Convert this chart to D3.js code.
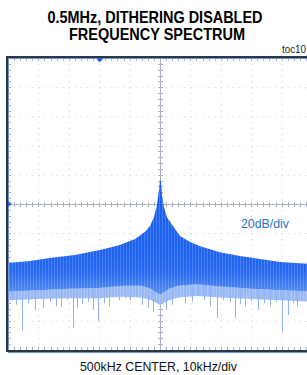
<!DOCTYPE html>
<html>
<head>
<meta charset="utf-8">
<script src="https://cdn.jsdelivr.net/npm/d3@7"></script>
<style>
  body { margin: 0; background: #fff; }
  svg { display: block; font-family: "Liberation Sans", Arial, sans-serif; }
</style>
</head>
<body>
<div id="chart"></div>
<script>
// spectrum: offset from 500kHz (kHz) and level (dB, top of screen = 0)
const envFreq = [-50, -42.8, -36.2, -28, -19.7, -13.2, -8.2, -4.9, -3.3, -2, -1, -0.33, 0, 0.33, 0.66, 1.3, 2.3, 3.9, 6.6, 9.9, 13.2, 19.7, 26.3, 32.9, 39.5, 48.4, 50];
const envDb   = [-140.4, -139, -137, -135, -131.5, -128, -124, -119, -115, -109, -100.7, -90, -83.6, -85, -94, -102, -109, -114, -122, -126, -129, -133, -135.6, -137.7, -139.7, -141, -141];

// lower edge of the dense band and of the lighter fringe below it
const floorFreq = [-50, -40, -30, -20, -12, -6, -3, -1, 0, 1, 3, 6, 12, 20, 30, 40, 50];
const floorDb   = [-160, -159, -158, -157.5, -156, -156, -158, -161, -162, -161, -158, -156, -155, -156.5, -158, -159, -160];
const fringeDb  = [-166, -165, -164.5, -164.5, -163.5, -164, -166, -168, -169, -168, -166, -164, -163, -164, -165, -166, -167];

// deep single spurs that reach below the band
const spurFreq = [-48.7, -47.4, -45.4, -43.4, -41.1, -38.5, -36.2, -34.2, -32.6, -30.6, -28.6, -27.3, -25.7, -23.7, -22, -20.4, -18.4, -16.8, -15.5, -13.5, -11.5, -9.9, -7.9, -5.9, -3.9, -2.3,
                  2, 3.9, 5.9, 8.2, 10.5, 12.5, 14.5, 16.4, 18.8, 20.7, 23, 24.7, 26.3, 28, 29.9, 32.2, 34.2, 36.2, 38.2, 40.1, 42.1, 43.8, 45, 46.7];
const spurDb   = [-165.8, -169, -187, -168, -172.6, -171, -167, -170, -170.5, -165.8, -185, -171, -168.5, -167, -172.6, -180, -168, -170, -160, -165.8, -164.4, -165.8, -163, -169, -171, -174,
                  -172.6, -169, -164.4, -168, -167, -163, -165.8, -170, -178, -165.8, -167, -178, -168.5, -170, -166.4, -172.6, -168, -170, -167, -187.7, -176, -168, -170, -165.8];

const title = ['0.5MHz, DITHERING DISABLED', 'FREQUENCY SPECTRUM'];
const xLabel = '500kHz CENTER, 10kHz/div';
const scaleLabel = '20dB/div';
const tocLabel = 'toc10';

const W = 307, H = 375;
const svg = d3.select('#chart').append('svg').attr('width', W).attr('height', H);

const x = d3.scaleLinear().domain([-50, 50]).range([8, 312]);
const y = d3.scaleLinear().domain([0, -200]).range([58, 350]);

const xMajor = d3.range(-50, 51, 10);
const yMajor = d3.range(0, -201, -20);
const xMinor = d3.range(-50, 50.01, 2);
const yMinor = d3.range(0, -200.01, -4);

const defs = svg.append('defs');
const grad = defs.append('linearGradient').attr('id', 'band').attr('x1', 0).attr('x2', 0).attr('y1', 0).attr('y2', 1)
  .attr('gradientUnits', 'userSpaceOnUse').attr('y1', y(-130)).attr('y2', y(-160));
grad.append('stop').attr('offset', 0).attr('stop-color', '#1c61ee');
grad.append('stop').attr('offset', 0.55).attr('stop-color', '#2668ee');
grad.append('stop').attr('offset', 1).attr('stop-color', '#4f88f0');
const stripes = defs.append('pattern').attr('id', 'stripes').attr('patternUnits', 'userSpaceOnUse')
  .attr('width', 3).attr('height', 8);
stripes.append('rect').attr('x', 0).attr('y', 0).attr('width', 1).attr('height', 8).attr('fill', '#fff').attr('opacity', 0.18);

// header
svg.append('text').attr('x', 155).attr('y', 23).attr('text-anchor', 'middle')
  .attr('font-size', 16.5).attr('font-weight', 'bold')
  .attr('textLength', 215).attr('lengthAdjust', 'spacingAndGlyphs').text(title[0]);
svg.append('text').attr('x', 157).attr('y', 39.5).attr('text-anchor', 'middle')
  .attr('font-size', 16.5).attr('font-weight', 'bold')
  .attr('textLength', 176).attr('lengthAdjust', 'spacingAndGlyphs').text(title[1]);
svg.append('text').attr('x', 282).attr('y', 53).attr('font-size', 10).attr('fill', '#222')
  .attr('textLength', 24).attr('lengthAdjust', 'spacingAndGlyphs').text(tocLabel);

// grid
const grid = svg.append('g').attr('stroke', '#cfcfcf').attr('stroke-width', 1);
grid.selectAll('.gx').data(xMajor.filter(d => d !== 0 && d > -50 && d < 50)).join('line')
  .attr('x1', d => x(d) + 0.5).attr('x2', d => x(d) + 0.5)
  .attr('y1', y(0)).attr('y2', y(-200))
  .attr('stroke-dasharray', '1,4.84');
grid.selectAll('.gy').data(yMajor.filter(d => d !== -100 && d < 0 && d > -200)).join('line')
  .attr('y1', d => y(d) + 0.5).attr('y2', d => y(d) + 0.5)
  .attr('x1', x(-50)).attr('x2', x(50))
  .attr('stroke-dasharray', '1,5.08');

// center crosshair with minor ticks
const cross = svg.append('g').attr('stroke', '#a9b1c2').attr('stroke-width', 1);
cross.append('line').attr('x1', x(-50)).attr('x2', x(50)).attr('y1', y(-100) + 0.5).attr('y2', y(-100) + 0.5);
cross.append('line').attr('y1', y(0)).attr('y2', y(-200)).attr('x1', x(0) + 0.5).attr('x2', x(0) + 0.5);
cross.selectAll('.tx').data(xMinor).join('line')
  .attr('x1', d => Math.round(x(d)) + 0.5).attr('x2', d => Math.round(x(d)) + 0.5)
  .attr('y1', y(-100) - 2).attr('y2', y(-100) + 3);
cross.selectAll('.ty').data(yMinor).join('line')
  .attr('y1', d => Math.round(y(d)) + 0.5).attr('y2', d => Math.round(y(d)) + 0.5)
  .attr('x1', x(0) - 2).attr('x2', x(0) + 3);

// edge ticks
const edge = svg.append('g').attr('stroke', '#a9b4cc').attr('stroke-width', 1);
edge.selectAll('.et').data(xMinor).join('line')
  .attr('x1', d => Math.round(x(d)) + 0.5).attr('x2', d => Math.round(x(d)) + 0.5)
  .attr('y1', y(0)).attr('y2', y(0) + 3);
edge.selectAll('.eb').data(xMinor).join('line')
  .attr('x1', d => Math.round(x(d)) + 0.5).attr('x2', d => Math.round(x(d)) + 0.5)
  .attr('y1', y(-200) - 3).attr('y2', y(-200));
edge.selectAll('.el').data(yMinor).join('line')
  .attr('y1', d => Math.round(y(d)) + 0.5).attr('y2', d => Math.round(y(d)) + 0.5)
  .attr('x1', x(-50)).attr('x2', x(-50) + 3);

// spectrum
const envPts = envFreq.map((f, i) => [f, envDb[i]]);
const floorPts = floorFreq.map((f, i) => [f, floorDb[i]]);
const fringePts = floorFreq.map((f, i) => [f, fringeDb[i]]);
const lower = d3.scaleLinear().domain(floorFreq).range(floorDb);
const line = d3.line().x(d => x(d[0])).y(d => y(d[1]));

// lighter fringe
const fringePath = line(floorPts) + 'L' + line(fringePts.slice().reverse()).slice(1) + 'Z';
svg.append('path').attr('d', fringePath).attr('fill', '#9bb9f3');
svg.append('path').attr('d', fringePath).attr('fill', 'url(#stripes)');

// spurs
svg.append('g').attr('stroke', '#93b3f2').attr('stroke-width', 1)
  .selectAll('line').data(spurFreq).join('line')
  .attr('x1', d => Math.round(x(d)) + 0.5).attr('x2', d => Math.round(x(d)) + 0.5)
  .attr('y1', d => y(lower(d)) - 2).attr('y2', (d, i) => y(spurDb[i]));

// dense band
const bandPath = line(envPts.concat(floorPts.slice().reverse())) + 'Z';
svg.append('path').attr('d', bandPath).attr('fill', 'url(#band)');
svg.append('path').attr('d', bandPath).attr('fill', 'url(#stripes)');

// frame
const frame = svg.append('g').attr('stroke', '#2e3642').attr('stroke-width', 2).attr('fill', 'none');
frame.append('line').attr('x1', x(-50) - 1).attr('x2', W).attr('y1', y(0) - 1).attr('y2', y(0) - 1);
frame.append('line').attr('x1', x(-50) - 1).attr('x2', x(-50) - 1).attr('y1', y(0) - 2).attr('y2', y(-200) + 2);
frame.append('line').attr('x1', x(-50) - 1).attr('x2', W).attr('y1', y(-200) + 1).attr('y2', y(-200) + 1);
const inner = svg.append('g').attr('stroke', '#6f93d6').attr('stroke-width', 1);
inner.append('line').attr('x1', x(-50)).attr('x2', W).attr('y1', y(0) + 0.5).attr('y2', y(0) + 0.5);
inner.append('line').attr('x1', x(-50) + 0.5).attr('x2', x(-50) + 0.5).attr('y1', y(0)).attr('y2', y(-200));
inner.append('line').attr('x1', x(-50)).attr('x2', W).attr('y1', y(-200) + 2.5).attr('y2', y(-200) + 2.5);

// markers
svg.append('path')
  .attr('d', `M${x(-20) - 2},${y(0)} h5 v2 l-2.5,2 l-2.5,-2 Z`)
  .attr('fill', '#1f5fe6');
svg.append('path')
  .attr('d', `M${x(-50)},${y(-100) - 3} l4,3 l-4,3 Z`)
  .attr('fill', '#1f5fe6');

// labels
svg.append('text').attr('x', 241).attr('y', 228).attr('font-size', 12.5).attr('fill', '#1f72c9')
  .attr('textLength', 48).attr('lengthAdjust', 'spacingAndGlyphs').text(scaleLabel);
svg.append('text').attr('x', 158.5).attr('y', 371).attr('text-anchor', 'middle').attr('font-size', 13.5)
  .attr('fill', '#111').attr('textLength', 157).attr('lengthAdjust', 'spacingAndGlyphs').text(xLabel);
</script>
</body>
</html>
